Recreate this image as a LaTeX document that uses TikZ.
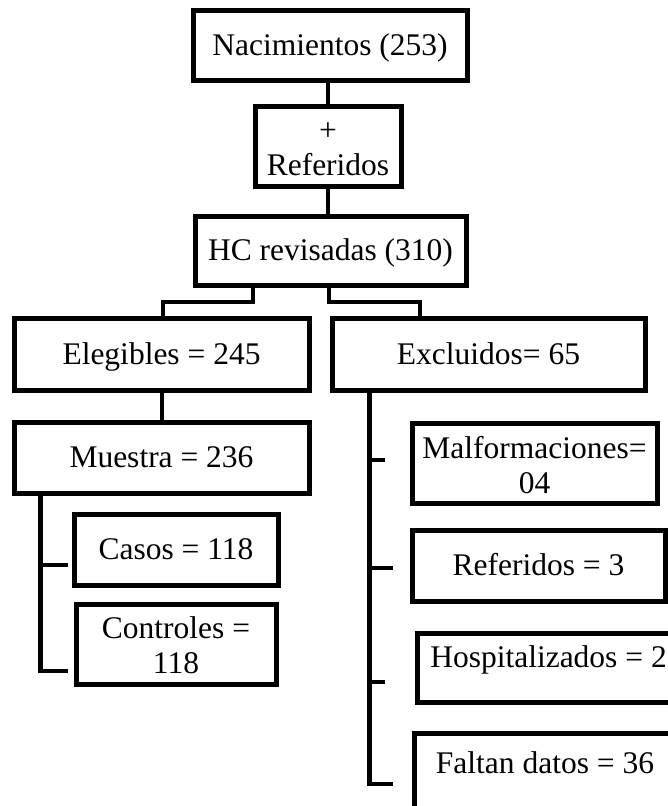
\documentclass[tikz,border=0pt]{standalone}
\usepackage{fontspec}
\setmainfont{Liberation Serif}
\usetikzlibrary{positioning, calc}
\tikzset{
    flow_box/.style={
        draw=black,
        line width=5pt,
        inner sep=0pt,
        font=\fontsize{31.5}{35}\selectfont
    },
    one_line/.style={text height=21pt, text depth=1pt},
    two_line/.style={align=center},
    flow_link/.style={draw=black, line width=4.5pt}
}
\newcommand{\lstrut}{\rule[-10.5pt]{0pt}{35pt}}
\newcommand{\fstrut}{\rule[-10.5pt]{0pt}{45pt}}

\begin{document}
\begin{tikzpicture}[x=1pt, y=-1pt]
    \useasboundingbox (0,0) rectangle (668,806);

    % Top column : births, referrals, reviewed records
    \node[flow_box, one_line, minimum width=274pt, minimum height=70pt] (nac) at (330,45) {Nacimientos (253)};
    \node[flow_box, two_line, minimum width=146pt, minimum height=70pt] (ref) at (328,146) {\fstrut+\\\lstrut Referidos};
    \node[flow_box, one_line, minimum width=271pt, minimum height=69pt] (hc) at (330.5,250.5) {HC revisadas (310)};

    \draw[flow_link] (ref.north |- nac.south) -- (ref.north);
    \draw[flow_link] (ref.south) -- (ref.south |- hc.north);

    % Split : eligible / excluded
    \node[flow_box, one_line, minimum width=295pt, minimum height=72pt] (eleg) at (161.5,354) {Elegibles = 245};
    \node[flow_box, one_line, minimum width=313pt, minimum height=72pt] (excl) at (488.5,354) {Excluidos= 65};

    \coordinate (split_l) at (253,302);
    \coordinate (split_r) at (329,302);
    \draw[flow_link] (split_l |- hc.south) -- (split_l) -| ([xshift=1.5pt]eleg.north);
    \draw[flow_link] (split_r |- hc.south) -- (split_r) -| ([xshift=-68.5pt]excl.north);

    % Left branch : sample
    \node[flow_box, one_line, minimum width=295pt, minimum height=71pt] (mue) at (161.5,457.5) {Muestra = 236};
    \node[flow_box, one_line, minimum width=204pt, minimum height=71pt] (casos) at (176,549.5) {Casos = 118};
    \node[flow_box, two_line, minimum width=200pt, minimum height=72pt] (ctrl) at (176,644) {\fstrut Controles =\\\lstrut 118};

    \draw[flow_link] ([xshift=0.5pt]eleg.south) -- ([xshift=0.5pt]mue.north);
    \coordinate (spine_l) at ([xshift=29pt]mue.south west);
    \coordinate (t_casos) at (68,565);
    \coordinate (t_ctrl) at (68,671);
    \draw[flow_link] (spine_l) |- (t_ctrl);
    \draw[flow_link] (spine_l |- t_casos) -- (t_casos);

    % Right branch : exclusion reasons
    \node[flow_box, two_line, minimum width=245pt, minimum height=73pt] (malf) at (534.5,463.5) {\fstrut Malformaciones=\\\lstrut 04};
    \node[flow_box, one_line, minimum width=253pt, minimum height=71pt] (ref3) at (538.5,565.5) {Referidos = 3};
    \node[flow_box, one_line, text depth=22pt, minimum width=263pt, minimum height=69pt] (hosp) at (548.5,667.5) {Hospitalizados = 2};
    \node[flow_box, one_line, text depth=23pt, minimum width=262pt, minimum height=82pt] (falt) at (545,774) {Faltan datos = 36};

    \coordinate (spine_r) at ([xshift=40pt]excl.south west);
    \coordinate (t_malf) at (385,460);
    \coordinate (t_ref3) at (393,568);
    \coordinate (t_hosp) at (385,682);
    \coordinate (t_falt) at (393,784);
    \draw[flow_link] (spine_r) |- (t_falt);
    \foreach \t in {t_malf, t_ref3, t_hosp}
        \draw[flow_link] (spine_r |- \t) -- (\t);
\end{tikzpicture}
\end{document}
